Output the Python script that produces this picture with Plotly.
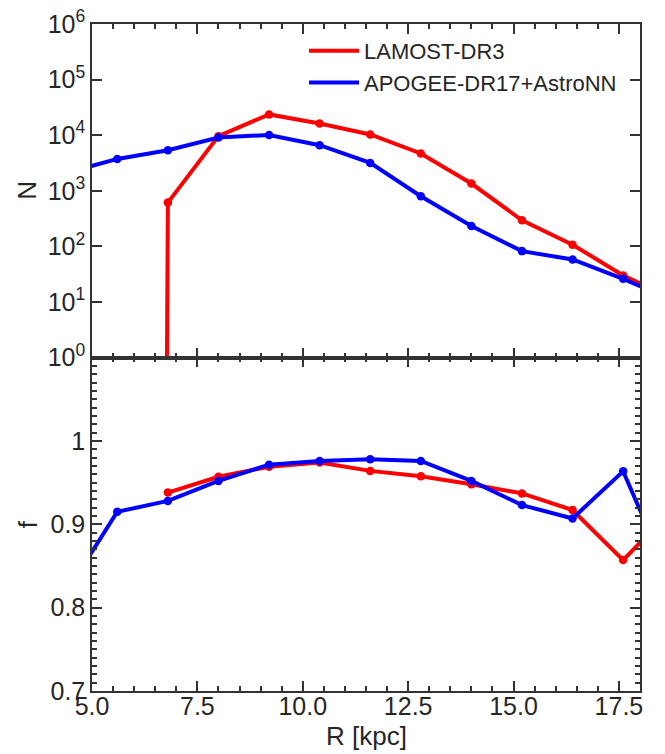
import plotly.graph_objects as go
from plotly.subplots import make_subplots

# ---- data ----
R = [4.4, 5.6, 6.8, 8.0, 9.2, 10.4, 11.6, 12.8, 14.0, 15.2, 16.4, 17.6, 18.8]
N_lamost = [0, 0, 612, 9600, 23600, 16200, 10300, 4680, 1350, 294, 107, 30, 11]
N_apogee = [2100, 3740, 5370, 9080, 10100, 6600, 3170, 795, 232, 82, 58, 26, 10.5]
f_lamost = [None, None, 0.938, 0.957, 0.969, 0.974, 0.964, 0.9575, 0.948, 0.937, 0.917, 0.857, 0.920]
f_apogee = [0.819, 0.915, 0.928, 0.952, 0.9715, 0.976, 0.978, 0.976, 0.952, 0.923, 0.907, 0.9635, 0.824]
names = ["LAMOST-DR3", "APOGEE-DR17+AstroNN"]
colors = ["#ff0000", "#0000ff"]

log_exponents = [0, 1, 2, 3, 4, 5, 6]
f_ticks = [0.7, 0.8, 0.9, 1.0]
f_ticklabels = ["0.7", "0.8", "0.9", "1"]
x_ticks = [5.0, 7.5, 10.0, 12.5, 15.0, 17.5]

# emulate log-axis clipping of non-positive counts (drawn toward -infinity)
def clip_log(vals):
    return [v if v > 0 else 1e-300 for v in vals]

FONT = "Liberation Sans, Arial, sans-serif"
TXT = "#262626"
AX = "#333333"
LW = 4
MS = 8.5

# page body has an 8px margin: figure is sized so the plot area lands where the reference has it
W, H = 657, 746
ML, MR, MT, MB = 84, 25, 16, 63

fig = make_subplots(rows=2, cols=1, shared_xaxes=True, vertical_spacing=0)

for N, f, name, c in [(N_lamost, f_lamost, names[0], colors[0]),
                      (N_apogee, f_apogee, names[1], colors[1])]:
    fig.add_trace(go.Scatter(x=R, y=clip_log(N), mode="lines+markers", name=name,
                             line=dict(color=c, width=LW), marker=dict(color=c, size=MS),
                             showlegend=False), row=1, col=1)
    fig.add_trace(go.Scatter(x=R, y=f, mode="lines+markers", name=name,
                             line=dict(color=c, width=LW), marker=dict(color=c, size=MS),
                             showlegend=False, connectgaps=False), row=2, col=1)
    # legend entry: line only
    fig.add_trace(go.Scatter(x=[None], y=[None], mode="lines", name=name,
                             line=dict(color=c, width=LW), showlegend=True), row=1, col=1)

axis_common = dict(showline=True, linecolor=AX, linewidth=1.5, mirror="allticks",
                   ticks="inside", tickcolor=AX, showgrid=False, zeroline=False,
                   automargin=False, ticklen=10, tickwidth=1.5, ticklabeloverflow="allow",
                   tickfont=dict(family=FONT, size=25, color=TXT))

fig.update_xaxes(range=[5.0, 18.0], tickvals=x_ticks, tickformat=".1f",
                 ticklabelstandoff=-8,
                 minor=dict(ticks="inside", dtick=0.5, tick0=5.0, ticklen=5, tickcolor=AX),
                 **axis_common)
fig.update_xaxes(showticklabels=False, row=1, col=1)

fig.update_yaxes(type="log", range=[0, 6],
                 tickvals=[10 ** e for e in log_exponents],
                 ticktext=["10<sup>%d</sup>" % e for e in log_exponents],
                 row=1, col=1, **axis_common)
fig.update_yaxes(range=[0.7, 1.1], tickvals=f_ticks, ticktext=f_ticklabels,
                 minor=dict(ticks="inside", dtick=0.01, tick0=0.7, ticklen=5, tickcolor=AX),
                 row=2, col=1, **axis_common)

PW = W - ML - MR
PH = H - MT - MB
title_font = dict(family=FONT, size=26, color=TXT)
fig.add_annotation(text="N", xref="paper", yref="paper", x=(27 - 8 - ML) / PW, y=0.75,
                   xanchor="center", yanchor="middle", textangle=-90, showarrow=False,
                   font=title_font)
fig.add_annotation(text="f", xref="paper", yref="paper", x=(28 - 8 - ML) / PW, y=0.25,
                   xanchor="center", yanchor="middle", textangle=-90, showarrow=False,
                   font=title_font)
fig.add_annotation(text="R [kpc]", xref="paper", yref="paper", x=0.5,
                   y=-(736 - 8 - (H - MB)) / PH,
                   xanchor="center", yanchor="middle", showarrow=False,
                   font=title_font)

fig.update_layout(
    width=W, height=H,
    margin=dict(l=ML, r=MR, t=MT, b=MB),
    paper_bgcolor="white", plot_bgcolor="white",
    font=dict(family=FONT, color=TXT),
    legend=dict(x=(304 - 8 - ML) / PW, y=1 - (30 - 8 - MT) / PH, xanchor="left", yanchor="top",
                font=dict(family=FONT, size=22, color=TXT), itemwidth=50,
                bgcolor="rgba(0,0,0,0)", tracegroupgap=0),
)

fig.write_html("out.html")
